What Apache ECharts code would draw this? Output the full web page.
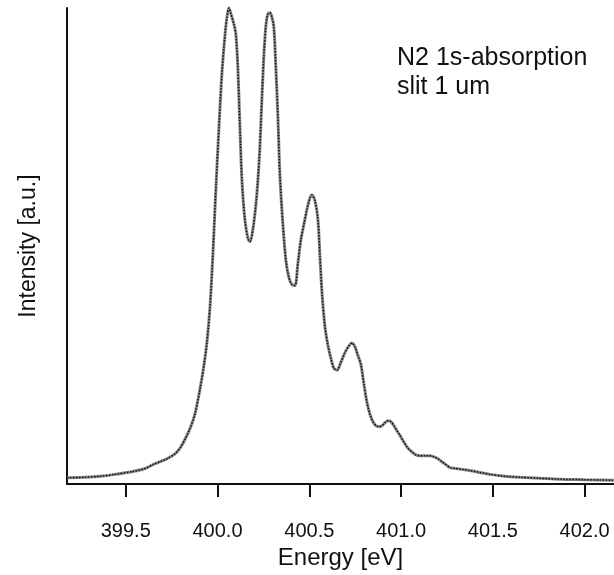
<!DOCTYPE html>
<html>
<head>
<meta charset="utf-8">
<script src="https://cdn.jsdelivr.net/npm/echarts@6/dist/echarts.min.js"></script>
<style>
html,body{margin:0;padding:0;background:#fff;}
#chart{width:614px;height:575px;}
</style>
</head>
<body>
<div id="chart"></div>
<script>
// Energy values (eV)
const energy = [
399.180,399.278,399.360,399.441,399.539,399.605,399.648,399.687,399.725,399.768,
399.796,399.823,399.850,399.877,399.904,399.926,399.943,399.959,399.975,399.992,
400.008,400.024,400.041,400.051,400.062,400.073,400.090,400.100,400.111,400.122,
400.133,400.149,400.166,400.177,400.193,400.209,400.220,400.231,400.242,400.253,
400.264,400.275,400.286,400.297,400.307,400.318,400.329,400.340,400.356,400.373,
400.389,400.405,400.422,400.438,400.455,400.471,400.487,400.504,400.514,400.531,
400.547,400.558,400.569,400.585,400.602,400.618,400.634,400.651,400.672,400.694,
400.716,400.732,400.749,400.765,400.781,400.798,400.814,400.830,400.847,400.863,
400.879,400.896,400.912,400.928,400.945,400.961,400.977,400.994,401.016,401.037,
401.059,401.081,401.103,401.130,401.157,401.179,401.201,401.222,401.244,401.266,
401.299,401.337,401.375,401.429,401.484,401.566,401.647,401.756,401.865,402.001,
402.159
];
// Intensity values (a.u.)
const intensity = [
1.33,1.43,1.64,2.04,2.66,3.27,4.09,4.70,5.32,6.34,
7.57,9.41,11.66,14.72,19.84,24.95,30.06,37.22,48.47,62.78,
75.05,86.30,94.48,97.96,100.0,98.77,96.52,94.48,87.32,75.05,
63.80,55.62,51.53,50.92,53.58,58.69,63.80,70.96,81.19,90.39,
96.52,98.77,98.98,97.96,95.91,87.32,77.10,64.83,54.60,46.83,
43.35,41.92,41.72,46.42,51.53,54.60,57.67,60.12,60.74,59.51,
55.62,47.85,40.29,33.13,29.04,26.38,24.34,23.93,25.56,27.61,
29.04,29.65,28.83,26.99,25.15,20.86,17.18,14.72,13.09,12.27,
12.07,12.27,12.88,13.29,13.09,12.27,11.25,10.22,8.79,7.57,
6.75,6.13,5.93,5.93,5.93,5.73,5.32,4.70,4.09,3.48,
3.27,3.07,2.86,2.45,2.04,1.64,1.43,1.23,1.02,0.92,
0.82
];
const tickValues = [399.5, 400.0, 400.5, 401.0, 401.5, 402.0];
const xTitle = 'Energy [eV]';
const yTitle = 'Intensity [a.u.]';
const noteLines = ['N2 1s-absorption', 'slit 1 um'];

const data = energy.map((e, i) => [e, intensity[i]]);
const FONT = '"Liberation Sans", Arial, Helvetica, sans-serif';

const chart = echarts.init(document.getElementById('chart'), null, {renderer: 'canvas'});
chart.setOption({
  animation: false,
  backgroundColor: '#fff',
  grid: {left: 67, right: 0, top: 8, bottom: 78, containLabel: false},
  xAxis: {
    type: 'value',
    min: 399.18, max: 402.16,
    name: xTitle,
    nameLocation: 'middle',
    nameGap: 51,
    nameTextStyle: {color: '#111', fontSize: 24, fontFamily: FONT},
    axisLine: {show: true, onZero: false, lineStyle: {color: '#111', width: 2}},
    axisTick: {show: true, inside: false, length: 13, lineStyle: {color: '#111', width: 2}, customValues: tickValues},
    axisLabel: {show: true, margin: 37, color: '#111', fontSize: 20, fontFamily: FONT,
      customValues: tickValues, formatter: v => v.toFixed(1)},
    splitLine: {show: false}
  },
  yAxis: {
    type: 'value',
    min: 0, max: 100,
    name: yTitle,
    nameLocation: 'middle',
    nameGap: 27,
    nameTextStyle: {color: '#111', fontSize: 23, fontFamily: FONT},
    axisLine: {show: true, onZero: false, lineStyle: {color: '#111', width: 2}},
    axisTick: {show: false},
    axisLabel: {show: false},
    splitLine: {show: false}
  },
  graphic: [{
    type: 'text', left: 397, top: 44,
    style: {text: noteLines.join('\n'), fill: '#111', fontSize: 25, fontFamily: FONT, lineHeight: 29}
  }],
  series: [
    {type: 'line', data: data, showSymbol: false, clip: false, smooth: 0.3,
     lineStyle: {color: '#8a8a8a', width: 3}, z: 2},
    {type: 'line', data: data, showSymbol: false, clip: false, smooth: 0.3,
     lineStyle: {color: '#111', width: 1.5, type: [1.5, 1.5]}, z: 3}
  ]
});
</script>
</body>
</html>
